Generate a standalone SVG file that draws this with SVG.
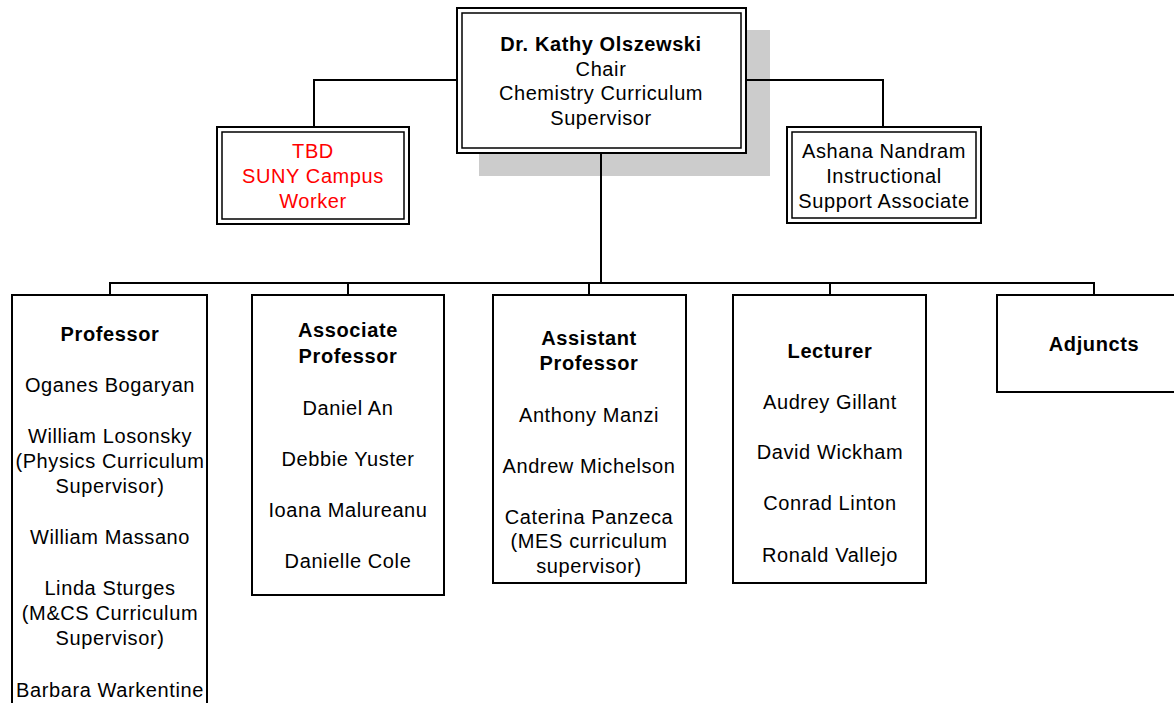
<svg xmlns="http://www.w3.org/2000/svg" width="1174" height="703" viewBox="0 0 1174 703">
<style>
text{font-family:"Liberation Sans",Arial,sans-serif;font-size:20px;fill:#000;text-anchor:middle;letter-spacing:0.6px}
.b{font-weight:bold}
.red{fill:#ff0000}
.box{fill:#fff;stroke:#000;stroke-width:2}
.inner{fill:none;stroke:#000;stroke-width:1.5}
.conn{fill:none;stroke:#000;stroke-width:2}
</style>
<rect width="1174" height="703" fill="#fff"/>
<rect x="479" y="30" width="291" height="146" fill="#cccccc"/>
<g id="connectors">
<path class="conn" d="M314,127 V80 H883 V127"/>
<path class="conn" d="M601,153 V283"/>
<path class="conn" d="M110,295 V283 H1094 V295"/>
<path class="conn" d="M348,283 V295 M589,283 V295 M830,283 V295"/>
</g>
<g id="chair">
<rect class="box" x="457" y="8" width="289" height="145"/>
<rect class="inner" x="462" y="13" width="279" height="135"/>
<text x="601" y="51" class="b">Dr. Kathy Olszewski</text>
<text x="601" y="75.5">Chair</text>
<text x="601" y="100">Chemistry Curriculum</text>
<text x="601" y="124.5">Supervisor</text>
</g>
<g id="tbd">
<rect class="box" x="217" y="127" width="192" height="97"/>
<rect class="inner" x="222" y="132" width="182" height="87"/>
<text class="red" x="313" y="158">TBD</text>
<text class="red" x="313" y="183">SUNY Campus</text>
<text class="red" x="313" y="208">Worker</text>
</g>
<g id="ashana">
<rect class="box" x="787" y="127" width="194" height="96"/>
<rect class="inner" x="792" y="132" width="184" height="86"/>
<text x="884" y="158">Ashana Nandram</text>
<text x="884" y="183">Instructional</text>
<text x="884" y="208">Support Associate</text>
</g>
<g id="professor">
<rect class="box" x="12" y="295" width="195" height="430"/>
<text x="110" y="341" class="b">Professor</text>
<text x="110" y="392">Oganes Bogaryan</text>
<text x="110" y="443">William Losonsky</text>
<text x="110" y="468">(Physics Curriculum</text>
<text x="110" y="493">Supervisor)</text>
<text x="110" y="544">William Massano</text>
<text x="110" y="595">Linda Sturges</text>
<text x="110" y="620">(M&amp;CS Curriculum</text>
<text x="110" y="645">Supervisor)</text>
<text x="110" y="697">Barbara Warkentine</text>
</g>
<g id="associate">
<rect class="box" x="252" y="295" width="192" height="300"/>
<text x="348" y="337" class="b">Associate</text>
<text x="348" y="363" class="b">Professor</text>
<text x="348" y="415">Daniel An</text>
<text x="348" y="466">Debbie Yuster</text>
<text x="348" y="517">Ioana Malureanu</text>
<text x="348" y="568">Danielle Cole</text>
</g>
<g id="assistant">
<rect class="box" x="493" y="295" width="193" height="288"/>
<text x="589" y="345" class="b">Assistant</text>
<text x="589" y="370" class="b">Professor</text>
<text x="589" y="422">Anthony Manzi</text>
<text x="589" y="473">Andrew Michelson</text>
<text x="589" y="524">Caterina Panzeca</text>
<text x="589" y="548">(MES curriculum</text>
<text x="589" y="573">supervisor)</text>
</g>
<g id="lecturer">
<rect class="box" x="733" y="295" width="193" height="288"/>
<text x="830" y="358" class="b">Lecturer</text>
<text x="830" y="409">Audrey Gillant</text>
<text x="830" y="459">David Wickham</text>
<text x="830" y="510">Conrad Linton</text>
<text x="830" y="562">Ronald Vallejo</text>
</g>
<g id="adjuncts">
<rect class="box" x="997" y="295" width="194" height="97"/>
<text x="1094" y="351" class="b">Adjuncts</text>
</g>
</svg>
